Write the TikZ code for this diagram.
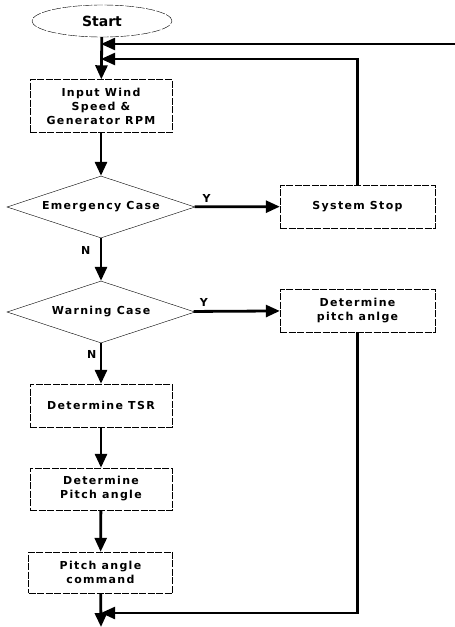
\documentclass[tikz,border=0pt]{standalone}
\usepackage{fontspec}
\newfontfamily\flowfont[LetterSpace=12]{DejaVu Sans}
\newfontfamily\startfont{DejaVu Sans}
\usetikzlibrary{shapes.geometric,arrows.meta}

\begin{document}
\begin{tikzpicture}[x=1pt,y=-1pt,
	box/.style={draw,thin,dash pattern=on 7pt off 1.5pt,align=center,inner sep=0pt,
		font=\flowfont\bfseries\fontsize{11}{14}\selectfont},
	decision/.style={draw,thin,diamond,aspect=3,inner sep=0pt,minimum width=188pt,minimum height=62pt,
		font=\flowfont\bfseries\fontsize{11}{14}\selectfont},
	flow/.style={line width=2.8pt,-{Triangle[length=14pt,width=12pt]}},
	back/.style={line width=2.2pt,-{Triangle[length=14pt,width=12pt]}},
	yn/.style={font=\flowfont\bfseries\fontsize{11}{14}\selectfont}]
	\useasboundingbox (0,0) rectangle (455,627);

	% main column
	\node[draw,thin,dash pattern=on 9pt off 1.5pt,ellipse,minimum width=140pt,minimum height=32pt,inner sep=0pt,
		font=\startfont\bfseries\fontsize{14}{16}\selectfont] (start) at (102,21) {Start};
	\node[box,minimum width=142pt,minimum height=53pt] (input) at (101,106) {Input Wind\\Speed \&\\Generator RPM};
	\node[decision] (emerg) at (101,207) {Emergency Case};
	\node[decision] (warn) at (101,312) {Warning Case};
	\node[box,minimum width=142pt,minimum height=43pt] (tsr) at (101,405.5) {Determine TSR};
	\node[box,minimum width=142pt,minimum height=42pt] (pitch) at (101,489) {Determine\\Pitch angle};
	\node[box,minimum width=144pt,minimum height=41pt] (cmd) at (100.5,572.5) {Pitch angle\\command};

	% right column
	\node[box,minimum width=155pt,minimum height=43pt] (stop) at (357.5,206.5) {System Stop};
	\node[box,minimum width=155pt,minimum height=43pt] (pitchY) at (357.5,310.5) {Determine\\pitch anlge};

	\coordinate (edge) at (455,44);
	\coordinate (j1) at (101,44);
	\coordinate (j2) at (101,59);
	\coordinate (j3) at (101,613);
	\coordinate (out) at (101,627);

	\draw[flow] (start) -- (input);
	\draw[flow] (input) -- (emerg);
	\draw[flow] (emerg) -- node[yn,above,pos=0.14]{Y} (stop);
	\draw[flow] (emerg) -- node[yn,left,pos=0.3,xshift=-6pt]{N} (warn);
	\draw[flow] (warn) -- node[yn,above,pos=0.12]{Y} (pitchY);
	\draw[flow] (warn) -- node[yn,left,pos=0.28]{N} (tsr);
	\draw[flow] (tsr) -- (pitch);
	\draw[flow] (pitch) -- (cmd);
	\draw[flow] (cmd) -- (out);

	% feedback
	\draw[back] (edge) -- (j1);
	\draw[back] (stop.north) |- (j2);
	\draw[back] (pitchY.south) |- (j3);
\end{tikzpicture}
\end{document}
